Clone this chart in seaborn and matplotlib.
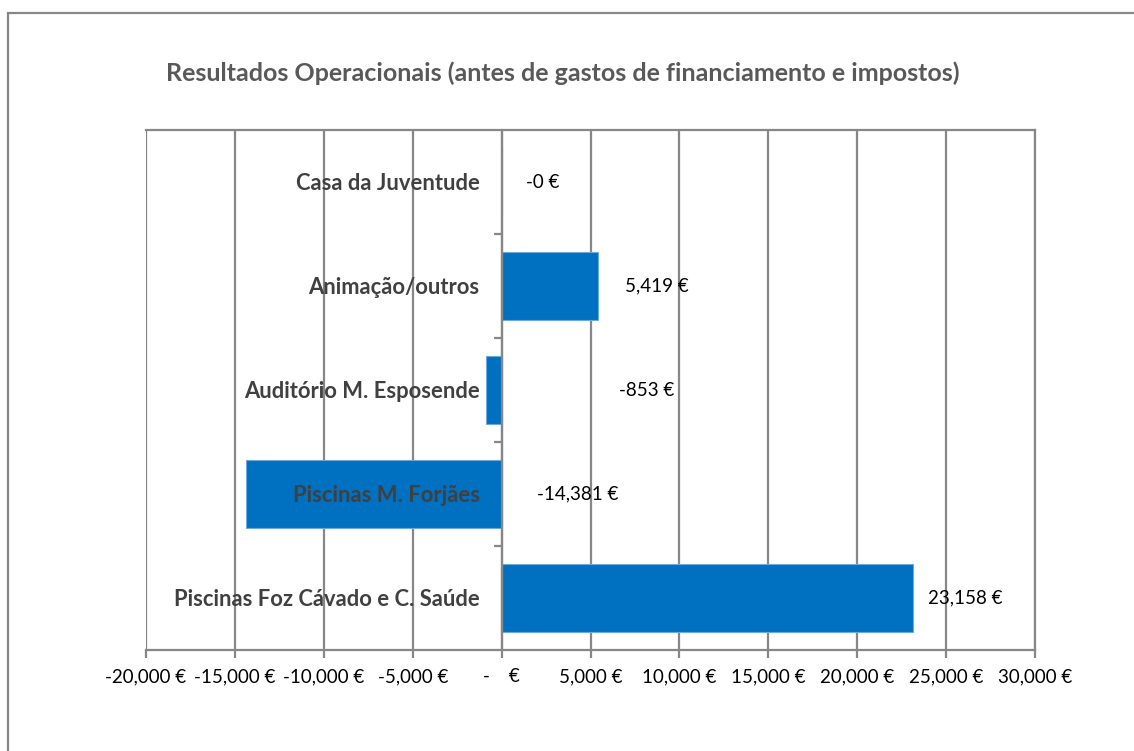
import matplotlib
matplotlib.use("Agg")
import matplotlib.pyplot as plt
import matplotlib.transforms as mtransforms
from matplotlib.patches import Rectangle
from matplotlib.ticker import FuncFormatter, MultipleLocator, FixedLocator
import seaborn as sns
import pandas as pd

# ---- data ----
categories = ["Casa da Juventude", "Animação/outros", "Auditório M. Esposende",
              "Piscinas M. Forjães", "Piscinas Foz Cávado e C. Saúde"]
values = [-0.3, 5419, -853, -14381, 23158]
value_labels = ["-0 €", "5,419 €", "-853 €", "-14,381 €", "23,158 €"]
label_x = [2330, 8740, 8180, 4300, 26070]   # where the data labels sit (data units)
title = "Resultados Operacionais (antes de gastos de financiamento e impostos)"

sns.set_theme(style="white")
plt.rcParams["font.family"] = ["Lato", "DejaVu Sans"]

W, H = 1134, 751
fig = plt.figure(figsize=(W / 100, H / 100), dpi=100)
ax = fig.add_axes([146 / W, 1 - 650 / H, (1035 - 146) / W, (650 - 130) / H])

df = pd.DataFrame({"cat": categories, "val": values})
sns.barplot(data=df, x="val", y="cat", orient="h", color="#0070C0",
            width=0.66, ax=ax, saturation=1, edgecolor="#6fa8dc", linewidth=0.8)

grid_c = "#878787"
ax.set_xlim(-20000, 30000)
ax.set_ylim(4.5, -0.5)
ax.xaxis.set_major_locator(MultipleLocator(5000))

def fmt(v, pos):
    if abs(v) < 1e-6:
        return "-    €"
    return f"{v:,.0f} €"

ax.xaxis.set_major_formatter(FuncFormatter(fmt))
ax.set_axisbelow(True)
ax.grid(axis="x", color=grid_c, linewidth=1.6)
ax.grid(axis="y", visible=False)

for s in ["top", "bottom", "left", "right"]:
    ax.spines[s].set_color(grid_c)
    ax.spines[s].set_linewidth(1.6)
ax.spines["left"].set_position(("data", 0))

ax.tick_params(axis="x", which="major", direction="out", length=6, width=1.6,
               color=grid_c, labelsize=13.5, labelcolor="black", pad=7, bottom=True)
ax.set_yticks(range(len(categories)))
ax.set_yticklabels([])
ax.tick_params(axis="y", which="major", length=0)
ax.yaxis.set_minor_locator(FixedLocator([0.5, 1.5, 2.5, 3.5]))
ax.tick_params(axis="y", which="minor", direction="out", length=6, width=1.6,
               color=grid_c, left=True)
ax.set_xlabel("")
ax.set_ylabel("")

# category labels next to the zero axis, drawn above bars
off = mtransforms.offset_copy(ax.transData, fig=fig, x=-22, y=-2, units="dots")
for i, c in enumerate(categories):
    ax.text(0, i, c, transform=off, ha="right", va="center", fontsize=15.8,
            fontweight="bold", color="#404040", zorder=6)

# value labels
for i, (lx, lab) in enumerate(zip(label_x, value_labels)):
    ax.text(lx, i, lab, ha="center", va="center", fontsize=13.5, color="black", zorder=6)

fig.text(563 / W, 1 - 73 / H, title, ha="center", va="center", fontsize=18,
         fontweight="bold", color="#595959")

# outer chart frame
fig.patches.append(Rectangle((8 / W, -0.2), 2.0, (H - 13) / H + 0.2,
                             transform=fig.transFigure, fill=False,
                             edgecolor=grid_c, linewidth=1.6))

fig.savefig("out.png", dpi=100)
